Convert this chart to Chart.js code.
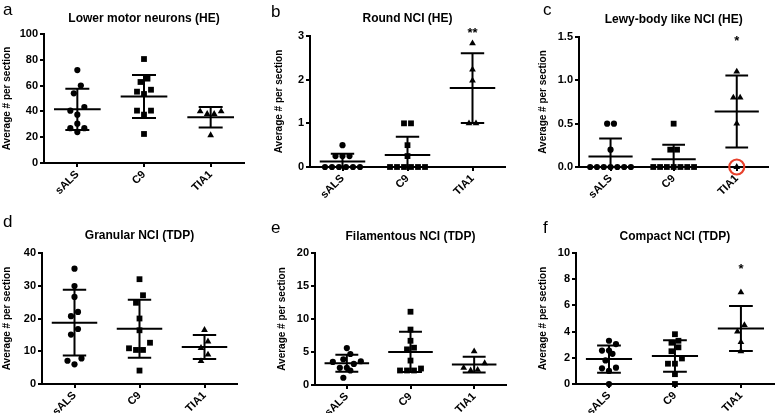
<!DOCTYPE html>
<html><head><meta charset="utf-8">
<script src="https://cdn.jsdelivr.net/npm/chart.js@4.4.0/dist/chart.umd.min.js"></script>
<style>
html,body{margin:0;padding:0;background:#fff;}
#wrap{position:relative;width:778px;height:413px;overflow:hidden;background:#fff;}
canvas{position:absolute;}
</style></head><body><div id="wrap"></div>
<script>
// ---------------- DATA ----------------
const categories = ['sALS', 'C9', 'TIA1'];
const panelLetters = ['a', 'b', 'c', 'd', 'e', 'f'];
const panelTitles = ['Lower motor neurons (HE)', 'Round NCI (HE)', 'Lewy-body like NCI (HE)',
                     'Granular NCI (TDP)', 'Filamentous NCI (TDP)', 'Compact NCI (TDP)'];
const yAxisTitle = 'Average # per section';
const yMaxes = [100, 3, 1.5, 40, 20, 10];
const ySteps = [20, 1, 0.5, 10, 5, 2];
// a Lower motor neurons
const lmnSALS = [72, 60, 54, 43.4, 40.6, 37.5, 30.5, 27, 27, 24];
const lmnC9 = [80.6, 65.4, 62.8, 56.8, 55.3, 53.5, 40.6, 40.6, 37.5, 22.5];
const lmnTIA1 = [40, 38, 38, 40, 21.5];
// b Round NCI
const roundSALS = [0.5, 0.25, 0.25, 0.25, 0, 0, 0, 0, 0, 0];
const roundC9 = [1, 1, 0.5, 0.25, 0, 0, 0, 0, 0, 0];
const roundTIA1 = [2.83, 2.23, 1.98, 1, 1];
// c Lewy-body like NCI
const lewySALS = [0.5, 0.5, 0.2, 0, 0, 0, 0, 0, 0, 0];
const lewyC9 = [0.5, 0.2, 0.2, 0, 0, 0, 0, 0, 0, 0];
const lewyTIA1 = [1.1, 0.8, 0.8, 0.5, 0];
// d Granular NCI
const granSALS = [35.2, 29.9, 26.6, 22, 20.7, 16.8, 15.1, 7.8, 7.1, 6];
const granC9 = [32, 27.1, 24.8, 20, 16.4, 12.6, 10.9, 10.4, 10.4, 4.1];
const granTIA1 = [16.5, 13, 11, 9, 7];
// e Filamentous NCI
const filSALS = [5.6, 4.7, 3.9, 3.5, 3.6, 3.2, 2.6, 2.6, 2.2, 1.1];
const filC9 = [11.1, 8.4, 6.7, 5.65, 5.4, 3.7, 2.5, 2.2, 2.2, 2.2];
const filTIA1 = [5.1, 3.3, 2.6, 2.3, 2.2];
// f Compact NCI
const compSALS = [3.3, 3.05, 2.55, 2.55, 2.3, 1.8, 1.25, 1.2, 1.0, 0];
const compC9 = [3.8, 3.3, 3.15, 2.8, 2.5, 1.95, 1.55, 1.55, 0.75, 0];
const compTIA1 = [7.0, 4.5, 4.0, 3.2, 2.5];
// significance marks per group
const significance = [['', '', ''], ['', '', '**'], ['', '', '*'], ['', '', ''], ['', '', ''], ['', '', '*']];
// highlighted (circled) point: panel index, group index, value
const flaggedPanel = 2, flaggedGroup = 2, flaggedValue = 0;

const panelData = [
  [lmnSALS, lmnC9, lmnTIA1],
  [roundSALS, roundC9, roundTIA1],
  [lewySALS, lewyC9, lewyTIA1],
  [granSALS, granC9, granTIA1],
  [filSALS, filC9, filTIA1],
  [compSALS, compC9, compTIA1]
];

// ---------------- LAYOUT (page pixel coordinates) ----------------
const panelLayout = [
  {box: [0, 0, 258, 205],   area: [44, 34, 244, 163],  yTitleX: 7,   letter: [3, 15],    titleY: 22,  starY: 0},
  {box: [258, 0, 258, 205], area: [310, 36, 505, 167], yTitleX: 279, letter: [271, 17],  titleY: 22,  starY: 30},
  {box: [516, 0, 262, 205], area: [579, 37, 774, 167], yTitleX: 543, letter: [543, 15],  titleY: 22.5, starY: 38},
  {box: [0, 205, 258, 208], area: [42, 253, 237, 384], yTitleX: 7,   letter: [3, 227],   titleY: 238.5, starY: 0},
  {box: [258, 205, 258, 208], area: [315, 253, 506, 385], yTitleX: 282, letter: [271, 233], titleY: 240, starY: 0},
  {box: [516, 205, 262, 208], area: [576, 253, 774, 384], yTitleX: 543, letter: [543, 233], titleY: 240, starY: 266}
];
const FONT = '"Liberation Sans", Arial, Helvetica, sans-serif';
const X_MIN = -0.5, X_MAX = 2.5;
const pointStyles = ['circle', 'rect', 'triangle'];
const pointRadii = [3.1, 4.1, 3.9];
const SWARM_STEP = 7, SWARM_BAND = 8;
const MEAN_HALF = 0.35, CAP_HALF = 0.18;

Chart.defaults.font.family = FONT;
Chart.defaults.color = '#000';

function mean(a) { return a.reduce((s, v) => s + v, 0) / a.length; }
function sd(a) { const m = mean(a); return Math.sqrt(a.reduce((s, v) => s + (v - m) * (v - m), 0) / (a.length - 1)); }

// column-scatter arrangement: values close together are laid side by side, centre-out (pixel offsets)
function swarm(vals, ppu) {
  const order = vals.map((v, i) => i).sort((a, b) => vals[a] - vals[b]);
  const off = new Array(vals.length).fill(0);
  let i = 0;
  while (i < order.length) {
    const start = vals[order[i]];
    let j = i;
    while (j + 1 < order.length && (vals[order[j + 1]] - start) * ppu < SWARM_BAND) j++;
    const n = j - i + 1;
    const slots = [];
    for (let k = 0; k < n; k++) slots.push((k - (n - 1) / 2) * SWARM_STEP);
    slots.sort((a, b) => Math.abs(a) - Math.abs(b) || a - b);
    for (let k = 0; k < n; k++) off[order[i + k]] = slots[k];
    i = j + 1;
  }
  return off;
}

const decor = {
  id: 'decor',
  afterDraw(chart, args, opts) {
    const p = opts.p, L = panelLayout[p];
    const bx = L.box[0], by = L.box[1];
    const ctx = chart.ctx, ca = chart.chartArea;
    ctx.save();
    ctx.fillStyle = '#000';
    ctx.textBaseline = 'alphabetic';
    ctx.textAlign = 'left';
    ctx.font = '17px ' + FONT;
    ctx.fillText(panelLetters[p], L.letter[0] - bx, L.letter[1] - by);
    ctx.textAlign = 'center';
    ctx.font = 'bold 12px ' + FONT;
    ctx.fillText(panelTitles[p], (ca.left + ca.right) / 2, L.titleY - by);
    ctx.font = 'bold 13px ' + FONT;
    significance[p].forEach((s, g) => {
      if (!s) return;
      ctx.fillText(s, chart.scales.x.getPixelForValue(g), L.starY - by + 7.4);
    });
    ctx.restore();
  }
};

function buildPanel(p) {
  const L = panelLayout[p];
  const [bx, by, bw, bh] = L.box;
  const [al, at, ar, ab] = L.area;
  const cv = document.createElement('canvas');
  cv.width = bw; cv.height = bh;
  cv.style.left = bx + 'px'; cv.style.top = by + 'px';
  cv.style.width = bw + 'px'; cv.style.height = bh + 'px';
  document.getElementById('wrap').appendChild(cv);

  const groups = panelData[p];
  const ppu = (ab - at) / yMaxes[p];
  const ppx = (ar - al) / (X_MAX - X_MIN);
  const datasets = [];
  groups.forEach((vals, g) => {
    const offs = swarm(vals, ppu);
    datasets.push({
      data: vals.map((v, k) => ({x: g + offs[k] / ppx, y: v})),
      pointStyle: pointStyles[g], pointRadius: pointRadii[g], pointHoverRadius: pointRadii[g],
      backgroundColor: '#000', borderColor: '#000', borderWidth: 0, clip: false, order: 2
    });
    const m = mean(vals), s = sd(vals);
    const lo = Math.max(0, m - s), hi = m + s;
    datasets.push({
      data: [
        {x: g - MEAN_HALF, y: m}, {x: g + MEAN_HALF, y: m}, {x: g, y: null},
        {x: g, y: lo}, {x: g, y: hi}, {x: g, y: null},
        {x: g - CAP_HALF, y: hi}, {x: g + CAP_HALF, y: hi}, {x: g, y: null},
        {x: g - CAP_HALF, y: lo}, {x: g + CAP_HALF, y: lo}
      ],
      showLine: true, spanGaps: false, pointRadius: 0, borderColor: '#000', borderWidth: 2,
      borderCapStyle: 'butt', clip: false, order: 1
    });
  });
  if (p === flaggedPanel) {
    datasets.push({
      data: [{x: flaggedGroup, y: flaggedValue}],
      pointStyle: 'circle', pointRadius: 7.5, backgroundColor: 'rgba(0,0,0,0)',
      borderColor: '#e8412c', borderWidth: 2.2, clip: false, order: 0
    });
  }

  const tickFont = {family: FONT, size: 11, weight: 'bold'};
  const gridOpts = {drawOnChartArea: false, drawTicks: true, tickLength: 4, color: '#000', lineWidth: 2};
  const borderOpts = {display: true, color: '#000', width: 2};

  new Chart(cv, {
    type: 'scatter',
    data: {datasets},
    options: {
      responsive: false, animation: false, events: [],
      layout: {padding: {left: 0, top: at - by, right: bx + bw - ar, bottom: 0}},
      plugins: {legend: {display: false}, tooltip: {enabled: false}, title: {display: false}, decor: {p}},
      scales: {
        x: {
          type: 'linear', min: X_MIN, max: X_MAX,
          afterBuildTicks: s => { s.ticks = categories.map((c, i) => ({value: i})); },
          afterFit: s => { s.height = by + bh - ab; },
          grid: gridOpts, border: borderOpts,
          ticks: {autoSkip: false, maxRotation: 45, minRotation: 45, padding: 1, font: tickFont, color: '#000',
                  callback: v => categories[v] !== undefined ? categories[v] : ''}
        },
        y: {
          min: 0, max: yMaxes[p],
          afterFit: s => { s.width = al - bx; },
          grid: gridOpts, border: borderOpts,
          ticks: {stepSize: ySteps[p], padding: 2, font: tickFont, color: '#000',
                  callback: v => (ySteps[p] < 1 ? Number(v).toFixed(1) : String(v))},
          title: {display: true, text: yAxisTitle, color: '#000',
                  font: {family: FONT, size: 10, weight: 'bold'},
                  padding: {top: Math.max(0, L.yTitleX - bx - 6), bottom: 0}}
        }
      }
    },
    plugins: [decor]
  });
}

for (let p = 0; p < 6; p++) buildPanel(p);
</script>
</body></html>
